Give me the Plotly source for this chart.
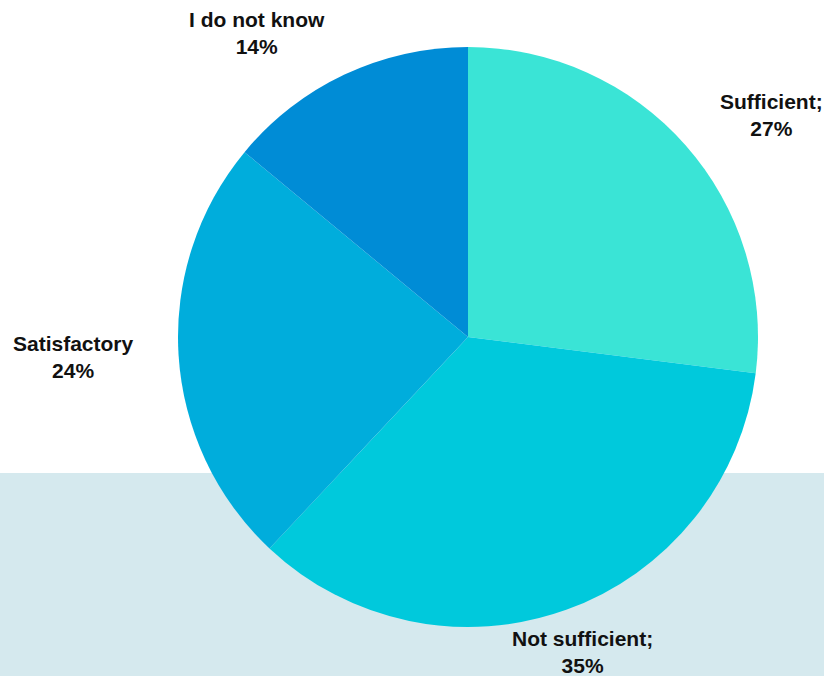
import plotly.graph_objects as go

# Survey answers and their shares (%)
categories = ["Sufficient", "Not sufficient", "Satisfactory", "I do not know"]
shares = [27, 35, 24, 14]
label_texts = ["Sufficient;", "Not sufficient;", "Satisfactory", "I do not know"]
slice_colors = ["#3ae4d6", "#00c9dc", "#00addc", "#008cd6"]

W, H = 824, 676
cx, cy, r = 468, 337, 290  # pie centre and radius in pixels

fig = go.Figure(
    go.Pie(
        labels=categories,
        values=shares,
        sort=False,
        direction="clockwise",
        rotation=0,
        marker=dict(colors=slice_colors, line=dict(width=0)),
        textinfo="none",
        hoverinfo="skip",
        showlegend=False,
        domain=dict(
            x=[(cx - r) / W, (cx + r) / W],
            y=[1 - (cy + r) / H, 1 - (cy - r) / H],
        ),
    )
)

# Pixel centres of the outside labels
label_pos = [(771, 115), (582, 652), (73, 357), (257, 33)]
for txt, val, (px, py) in zip(label_texts, shares, label_pos):
    fig.add_annotation(
        x=px / W, y=1 - py / H, xref="paper", yref="paper",
        text=f"<b>{txt}<br>{val}%</b>", showarrow=False,
        xanchor="center", yanchor="middle", align="center",
        font=dict(family="Liberation Sans, Arial, sans-serif", size=21, color="#111111"),
    )

# Pale band behind the lower part of the chart
fig.add_shape(
    type="rect", xref="paper", yref="paper",
    x0=0, x1=1, y0=0, y1=1 - 473 / H,
    fillcolor="#d5e9ee", line=dict(width=0), layer="below",
)

fig.update_layout(
    width=W, height=H,
    margin=dict(l=0, r=0, t=0, b=0),
    paper_bgcolor="white", plot_bgcolor="white",
)

fig.write_html("out.html")
